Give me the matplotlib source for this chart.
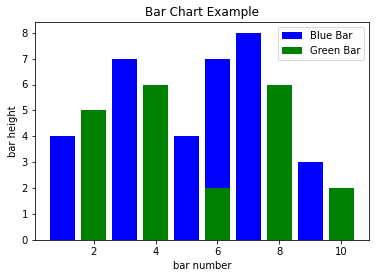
import matplotlib
matplotlib.use("Agg")
import matplotlib.pyplot as plt

blue_x = [1, 3, 5, 6, 7, 9]
blue_y = [4, 7, 4, 7, 8, 3]
green_x = [2, 4, 6, 8, 10]
green_y = [5, 6, 2, 6, 2]

fig = plt.figure(figsize=(376/72, 278/72), dpi=72)
ax = fig.add_axes([35/376, 1-240/278, (369-35)/376, (240-22.3)/278])
ax.bar(blue_x, blue_y, color='blue', label='Blue Bar')
ax.bar(green_x, green_y, color='green', label='Green Bar')
ax.set_title('Bar Chart Example', fontsize=12)
ax.set_xlabel('bar number')
ax.set_ylabel('bar height')
ax.legend(loc='upper right')
fig.savefig('out.png', dpi=72)
